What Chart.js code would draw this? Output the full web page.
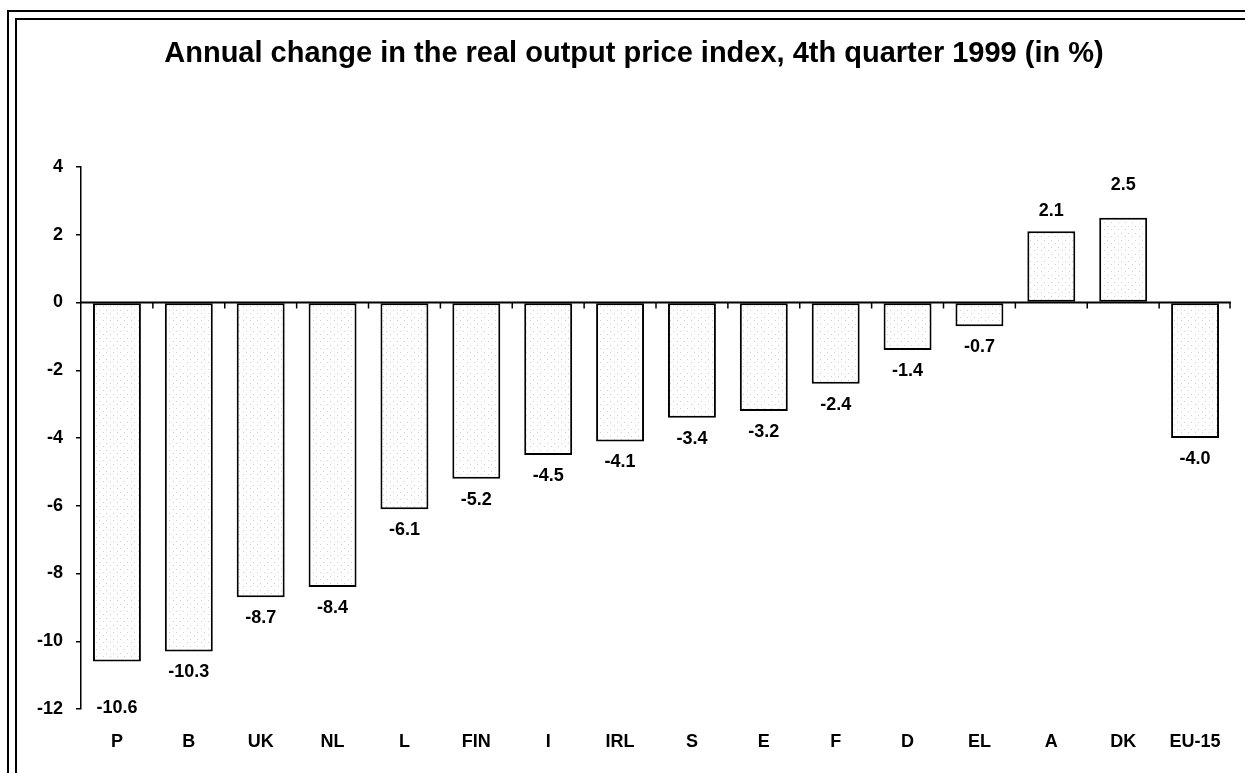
<!DOCTYPE html>
<html>
<head>
<meta charset="utf-8">
<title>Annual change in the real output price index</title>
<script src="https://cdn.jsdelivr.net/npm/chart.js@4.4.1/dist/chart.umd.min.js"></script>
<style>
  html, body { margin: 0; padding: 0; background: #fff; overflow: hidden; }
  #wrap { position: relative; width: 1245px; height: 773px; }
  .frame { position: absolute; border-left: 2px solid #000; border-top: 2px solid #000; width: 1400px; height: 900px; }
  #frame-outer { left: 7px; top: 10px; }
  #frame-inner { left: 15px; top: 18px; }
  #chart { position: absolute; left: 0; top: 0; }
</style>
</head>
<body>
<div id="wrap">
  <div class="frame" id="frame-outer"></div>
  <div class="frame" id="frame-inner"></div>
  <canvas id="chart" width="1245" height="773"></canvas>
</div>
<script>
// ---- Data ----
const countries = ["P", "B", "UK", "NL", "L", "FIN", "I", "IRL", "S", "E", "F", "D", "EL", "A", "DK", "EU-15"];
const priceChange = [-10.6, -10.3, -8.7, -8.4, -6.1, -5.2, -4.5, -4.1, -3.4, -3.2, -2.4, -1.4, -0.7, 2.1, 2.5, -4.0];
const yTicks = [4, 2, 0, -2, -4, -6, -8, -10, -12];

const TITLE = "Annual change in the real output price index, 4th quarter 1999 (in %)";
const FONT = "'Liberation Sans', Arial, Helvetica, sans-serif";

// the original nudges a couple of labels further out than the rest
const labelNudge = { P: 25, DK: 13 };

// light stippled fill like the scanned original
function stipple() {
  const c = document.createElement("canvas");
  c.width = 7; c.height = 7;
  const g = c.getContext("2d");
  g.fillStyle = "#ffffff";
  g.fillRect(0, 0, 7, 7);
  g.fillStyle = "#cfcfcf";
  g.fillRect(1, 2, 1, 1);
  g.fillRect(5, 5, 1, 1);
  return g.createPattern(c, "repeat");
}

// title drawn by hand so it can sit off-centre like the original
const titleText = {
  id: "titleText",
  afterDraw(chart) {
    const { ctx } = chart;
    ctx.save();
    ctx.font = `bold 29px ${FONT}`;
    ctx.fillStyle = "#000";
    ctx.textAlign = "center";
    ctx.textBaseline = "alphabetic";
    ctx.fillText(TITLE, 634, 62);
    ctx.restore();
  },
};

// zero line with small ticks between categories
const zeroLine = {
  id: "zeroLine",
  afterDatasetsDraw(chart) {
    const { ctx, chartArea, scales } = chart;
    const x = scales.x, y0 = scales.y.getPixelForValue(0);
    ctx.save();
    ctx.strokeStyle = "#000";
    ctx.lineWidth = 2;
    ctx.beginPath();
    ctx.moveTo(chartArea.left, y0);
    ctx.lineTo(chartArea.right, y0);
    ctx.stroke();
    ctx.lineWidth = 1.5;
    const n = countries.length;
    for (let i = 0; i < n; i++) {
      const bx = i < n - 1
        ? (x.getPixelForValue(i) + x.getPixelForValue(i + 1)) / 2
        : chartArea.right - 1;
      ctx.beginPath();
      ctx.moveTo(bx, y0);
      ctx.lineTo(bx, y0 + 6);
      ctx.stroke();
    }
    ctx.restore();
  },
};

// value labels under negative bars, above positive ones
const valueLabels = {
  id: "valueLabels",
  afterDatasetsDraw(chart) {
    const { ctx } = chart;
    const meta = chart.getDatasetMeta(0);
    ctx.save();
    ctx.font = `bold 18px ${FONT}`;
    ctx.fillStyle = "#000";
    ctx.textAlign = "center";
    ctx.textBaseline = "middle";
    meta.data.forEach((bar, i) => {
      const v = priceChange[i];
      const extra = labelNudge[countries[i]] || 0;
      const ty = v < 0 ? bar.y + 21 + extra : bar.y - 20 - extra;
      ctx.fillText(v.toFixed(1), bar.x, ty);
    });
    ctx.restore();
  },
};

new Chart(document.getElementById("chart"), {
  type: "bar",
  data: {
    labels: countries,
    datasets: [{
      data: priceChange,
      backgroundColor: stipple(),
      borderColor: "#000",
      borderWidth: 2,
      borderSkipped: false,
      barPercentage: 0.667,
      categoryPercentage: 1,
    }],
  },
  options: {
    responsive: false,
    animation: false,
    layout: { padding: { left: 0, right: 14, top: 167, bottom: 0 } },
    plugins: {
      legend: { display: false },
      tooltip: { enabled: false },
      title: { display: false },
    },
    scales: {
      x: {
        grid: { display: false },
        border: { display: false },
        ticks: { color: "#000", font: { family: FONT, size: 18, weight: "bold" }, padding: 14, maxRotation: 0 },
        afterFit: (s) => { s.height = 64; },
      },
      y: {
        min: -12,
        max: 4,
        afterBuildTicks: (s) => { s.ticks = yTicks.map((v) => ({ value: v })); },
        ticks: { color: "#000", font: { family: FONT, size: 18, weight: "bold" }, padding: 13 },
        grid: { drawOnChartArea: false, drawTicks: true, tickLength: 5, color: "#000", lineWidth: 1.5 },
        border: { color: "#000", width: 1.5 },
        afterFit: (s) => { s.width = 81; },
      },
    },
  },
  plugins: [zeroLine, valueLabels, titleText],
});
</script>
</body>
</html>
